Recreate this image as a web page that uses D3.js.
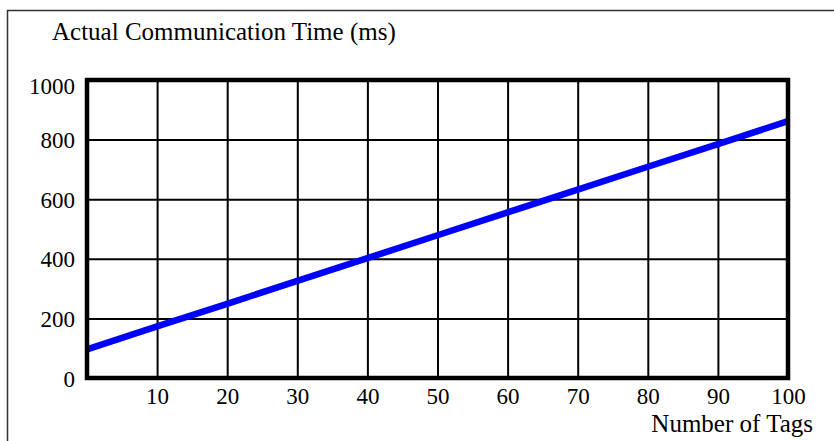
<!DOCTYPE html>
<html>
<head>
<meta charset="utf-8">
<script src="https://cdn.jsdelivr.net/npm/d3@7"></script>
<style>
  body { margin: 0; background: #fff; }
  svg { display: block; font-family: "Liberation Serif", "Times New Roman", serif; }
  .tick text { font-size: 23px; fill: #000; }
</style>
</head>
<body>
<div id="chart"></div>
<script>
// data
var tags = [0, 10, 20, 30, 40, 50, 60, 70, 80, 90, 100];
var commTime = [96, 173, 249, 326, 402, 479, 556, 632, 709, 785, 862];
var xTicks = [10, 20, 30, 40, 50, 60, 70, 80, 90, 100];
var yTicks = [0, 200, 400, 600, 800, 1000];
var yTitle = "Actual Communication Time (ms)";
var xTitle = "Number of Tags";

var width = 834, height = 441;
var margin = {top: 80, right: 46, bottom: 63, left: 87};
var w = width - margin.left - margin.right,
    h = height - margin.top - margin.bottom;

var svg = d3.select('#chart').append('svg')
    .attr('width', width)
    .attr('height', height);

// outer frame (open at right/bottom)
svg.append('path')
    .attr('d', 'M7.5,' + height + 'V10.5H' + width)
    .attr('fill', 'none')
    .attr('stroke', '#333')
    .attr('stroke-width', 1.5);

var x = d3.scaleLinear().domain([0, 100]).range([0, w]);
var y = d3.scaleLinear().domain([0, 1000]).range([h, 0]);

var g = svg.append('g')
    .attr('transform', 'translate(' + margin.left + ',' + margin.top + ')');

// gridlines + tick labels
var xAxis = g.append('g')
    .attr('transform', 'translate(0,' + h + ')')
    .call(d3.axisBottom(x).tickValues(xTicks).tickSize(-h).tickPadding(0).tickFormat(d3.format('d')))
    .attr('font-family', null).attr('font-size', null);
xAxis.select('.domain').remove();
xAxis.selectAll('line').attr('stroke', '#000').attr('stroke-width', 2);
xAxis.selectAll('text').attr('y', 26).attr('dy', 0);

var yAxis = g.append('g')
    .call(d3.axisLeft(y).tickValues(yTicks).tickSize(-w).tickPadding(12).tickFormat(d3.format('d')))
    .attr('font-family', null).attr('font-size', null);
yAxis.select('.domain').remove();
yAxis.selectAll('line').attr('stroke', '#000').attr('stroke-width', 2);
yAxis.selectAll('text').attr('dy', function(d) { return d == 1000 ? '0.6em' : '0.35em'; });

// the series
var line = d3.line()
    .x(function(d, i) { return x(tags[i]); })
    .y(function(d) { return y(d); });

g.append('path')
    .datum(commTime)
    .attr('d', line)
    .attr('fill', 'none')
    .attr('stroke', '#0000ff')
    .attr('stroke-width', 6.5);

// plot border
g.append('rect')
    .attr('width', w)
    .attr('height', h)
    .attr('fill', 'none')
    .attr('stroke', '#000')
    .attr('stroke-width', 4.5);

// titles
svg.append('text')
    .attr('x', 52)
    .attr('y', 40)
    .attr('font-size', 25)
    .text(yTitle);

svg.append('text')
    .attr('x', 813)
    .attr('y', 432)
    .attr('text-anchor', 'end')
    .attr('font-size', 25)
    .text(xTitle);
</script>
</body>
</html>
